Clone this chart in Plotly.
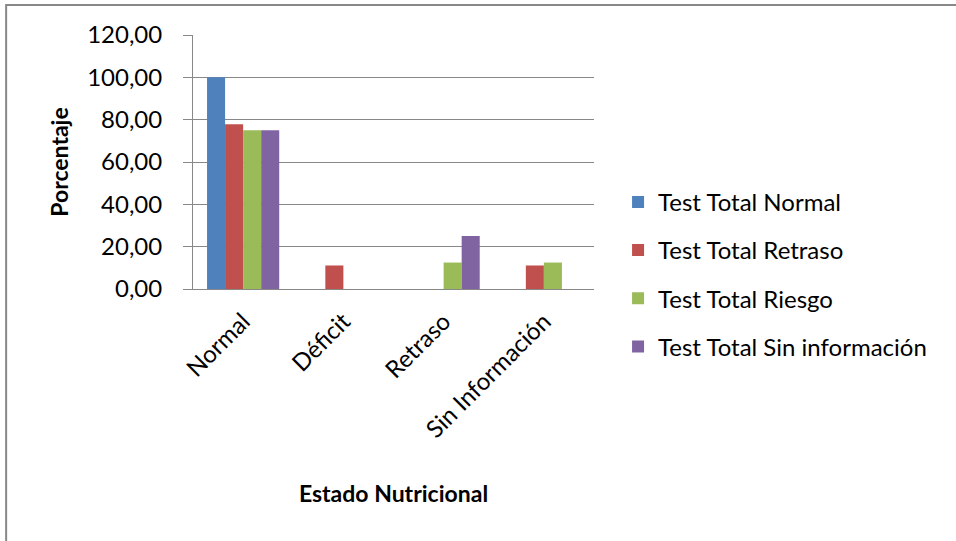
import plotly.graph_objects as go

categories = ["Normal", "Déficit", "Retraso", "Sin Información"]
series_names = ["Test Total Normal", "Test Total Retraso", "Test Total Riesgo", "Test Total Sin información"]
normal_vals = [100.0, 0.0, 0.0, 0.0]
retraso_vals = [77.78, 11.11, 0.0, 11.11]
riesgo_vals = [75.0, 0.0, 12.5, 12.5]
sininfo_vals = [75.0, 0.0, 25.0, 0.0]
colors = ["#4F81BD", "#C0504D", "#9BBB59", "#8064A2"]
y_ticks = [0, 20, 40, 60, 80, 100, 120]

FONT = "Lato"
fig = go.Figure()
for i, (name, vals) in enumerate(zip(series_names, [normal_vals, retraso_vals, riesgo_vals, sininfo_vals])):
    fig.add_trace(go.Bar(x=categories, y=vals, name=name, marker_color=colors[i],
                         marker_line_width=0, legendgroup=f"g{i}"))

fig.update_layout(
    width=956, height=541,
    margin=dict(l=193, r=362, t=35, b=252),
    paper_bgcolor="white", plot_bgcolor="white",
    barmode="group", bargap=0.28, bargroupgap=0,
    separators=",.",
    font=dict(family=FONT, color="#000000"),
    showlegend=True,
    legend=dict(x=1.06, y=0.43, xanchor="left", yanchor="top",
                font=dict(family=FONT, size=24, color="#000000"),
                tracegroupgap=14, traceorder="grouped", bgcolor="rgba(0,0,0,0)"),
    shapes=[dict(type="rect", xref="paper", yref="paper",
                 x0=-0.466, x1=1.95, y0=-1.05, y1=1.118,
                 line=dict(color="#888888", width=2), fillcolor="rgba(0,0,0,0)", layer="below")],
)
fig.update_yaxes(range=[0, 120], tickvals=y_ticks, tickformat=".2f",
                 showgrid=True, gridcolor="#888888", gridwidth=1,
                 showline=True, linecolor="#888888", linewidth=1,
                 ticks="outside", ticklen=9, tickcolor="#888888",
                 ticklabelstandoff=16, zeroline=False,
                 tickfont=dict(family=FONT, size=24, color="#000000"),
                 title=dict(text="<b>Porcentaje</b>", font=dict(family=FONT, size=23), standoff=12),
                 automargin=False)
fig.update_xaxes(tickangle=-45, showline=True, linecolor="#888888", linewidth=1,
                 ticks="", tickfont=dict(family=FONT, size=24, color="#000000"),
                 ticklabelstandoff=8,
                 title=dict(text="<b>Estado Nutricional</b>", font=dict(family=FONT, size=23), standoff=43),
                 automargin=False)

fig.write_html("out.html", config={"displayModeBar": False},
               post_script="document.body.style.margin='0';")
